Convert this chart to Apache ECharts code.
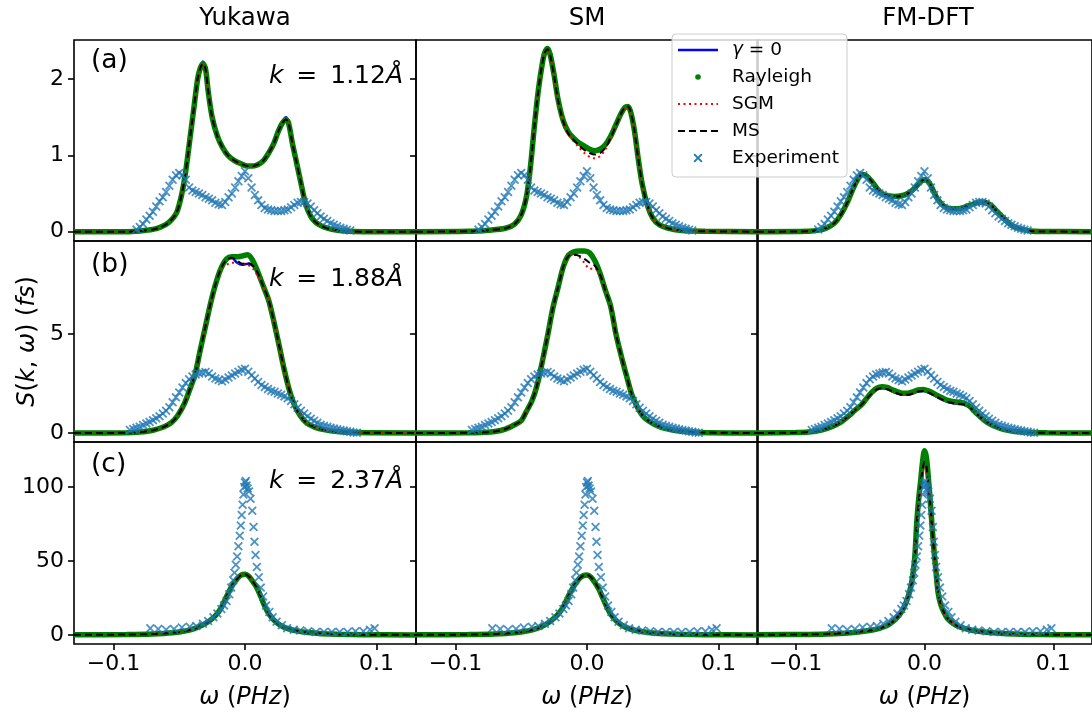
<!DOCTYPE html>
<html>
<head>
<meta charset="utf-8">
<title>S(k, ω) Yukawa / SM / FM-DFT</title>
<script src="https://cdn.jsdelivr.net/npm/echarts@6.0.0/dist/echarts.min.js"></script>
<style>
  html, body { margin: 0; padding: 0; background: #fff; }
  #main { width: 1092px; height: 713px; }
</style>
</head>
<body>
<div id="main"></div>
<script>
// ---- 数据 ----
const COLUMN_TITLES = ['Yukawa', 'SM', 'FM-DFT'];
const ROW_TAGS = ['(a)', '(b)', '(c)'];
const K_VALUES = ['1.12', '1.88', '2.37'];
const X_TICKS = [-0.1, 0, 0.1];
const Y_TICKS = [[0, 1, 2], [0, 5], [0, 50, 100]];
const Y_RANGES = [[-0.122, 2.51], [-0.455, 9.70], [-6.1, 130.4]];

// row (a), k = 1.12
const xYukA = [-0.13,-0.09,-0.08,-0.07,-0.064,-0.058,-0.052,-0.048,-0.045,-0.042,-0.039,-0.036,-0.034,-0.032,-0.030,-0.028,-0.025,-0.021,-0.017,-0.013,-0.008,-0.003,0.002,0.006,0.010,0.014,0.018,0.022,0.025,0.028,0.031,0.033,0.036,0.039,0.042,0.046,0.050,0.054,0.060,0.066,0.075,0.09,0.13];
const gYukA = [0,0,0.01,0.03,0.06,0.12,0.25,0.5,0.8,1.2,1.6,2.0,2.15,2.23,2.15,1.85,1.5,1.25,1.1,1.0,0.93,0.89,0.86,0.86,0.88,0.93,1.03,1.16,1.3,1.42,1.5,1.44,1.16,0.92,0.68,0.37,0.2,0.12,0.06,0.03,0.01,0,0];
const rYukA = [0,0,0.01,0.03,0.06,0.12,0.25,0.5,0.8,1.2,1.6,2.0,2.14,2.2,2.13,1.84,1.5,1.25,1.1,1.0,0.93,0.89,0.86,0.86,0.88,0.93,1.03,1.16,1.3,1.41,1.47,1.43,1.16,0.92,0.68,0.37,0.2,0.12,0.06,0.03,0.01,0,0];

const xSmA = [-0.13,-0.09,-0.075,-0.062,-0.055,-0.05,-0.046,-0.043,-0.040,-0.037,-0.034,-0.032,-0.030,-0.028,-0.025,-0.022,-0.018,-0.014,-0.010,-0.006,-0.002,0.002,0.006,0.010,0.014,0.018,0.022,0.026,0.029,0.031,0.033,0.036,0.039,0.042,0.046,0.050,0.055,0.062,0.072,0.09,0.13];
const rSmA = [0,0.005,0.02,0.045,0.1,0.22,0.46,0.85,1.38,1.85,2.2,2.35,2.40,2.32,2.05,1.73,1.45,1.3,1.22,1.16,1.12,1.08,1.06,1.08,1.14,1.25,1.4,1.55,1.63,1.64,1.58,1.33,0.95,0.62,0.34,0.18,0.09,0.045,0.015,0.005,0];
const sSmA = [0,0.005,0.02,0.045,0.1,0.22,0.46,0.85,1.38,1.85,2.2,2.35,2.38,2.3,2.03,1.72,1.43,1.27,1.18,1.1,1.03,0.98,0.96,0.99,1.08,1.22,1.38,1.54,1.62,1.63,1.57,1.32,0.95,0.62,0.34,0.18,0.09,0.045,0.015,0.005,0];
const mSmA = [0,0.005,0.02,0.045,0.1,0.22,0.46,0.85,1.38,1.85,2.2,2.35,2.39,2.31,2.04,1.72,1.44,1.28,1.2,1.13,1.07,1.03,1.01,1.03,1.1,1.23,1.39,1.55,1.63,1.64,1.58,1.33,0.95,0.62,0.34,0.18,0.09,0.045,0.015,0.005,0];

const xFmA = [-0.13,-0.09,-0.082,-0.076,-0.07,-0.065,-0.06,-0.055,-0.051,-0.048,-0.045,-0.041,-0.037,-0.033,-0.028,-0.023,-0.018,-0.013,-0.009,-0.005,-0.002,0.001,0.004,0.007,0.01,0.014,0.018,0.022,0.026,0.031,0.036,0.041,0.045,0.048,0.052,0.056,0.06,0.065,0.07,0.076,0.082,0.09,0.13];
const gFmA = [0,0.005,0.02,0.05,0.11,0.22,0.38,0.58,0.71,0.75,0.73,0.66,0.57,0.5,0.47,0.46,0.47,0.5,0.55,0.62,0.67,0.68,0.63,0.53,0.43,0.35,0.31,0.3,0.3,0.32,0.35,0.38,0.39,0.38,0.34,0.27,0.2,0.12,0.06,0.03,0.01,0.003,0];

const expXA = [-0.0825,-0.08,-0.0775,-0.075,-0.0725,-0.07,-0.0675,-0.065,-0.0625,-0.06,-0.0575,-0.055,-0.0525,-0.05,-0.0475,-0.045,-0.0425,-0.04,-0.0375,-0.035,-0.0325,-0.03,-0.0275,-0.025,-0.0225,-0.02,-0.0175,-0.015,-0.0125,-0.01,-0.0075,-0.005,-0.0025,0,0.0025,0.005,0.0075,0.01,0.0125,0.015,0.0175,0.02,0.0225,0.025,0.0275,0.03,0.0325,0.035,0.0375,0.04,0.0425,0.045,0.0475,0.05,0.0525,0.055,0.0575,0.06,0.0625,0.065,0.0675,0.07,0.0725,0.075,0.0775,0.08];
const expYA = [0.03,0.06,0.1,0.16,0.21,0.26,0.33,0.4,0.45,0.52,0.6,0.68,0.74,0.77,0.74,0.68,0.58,0.54,0.52,0.5,0.48,0.45,0.43,0.41,0.38,0.36,0.35,0.39,0.45,0.5,0.58,0.66,0.73,0.79,0.7,0.58,0.48,0.41,0.35,0.31,0.29,0.28,0.27,0.27,0.27,0.28,0.29,0.32,0.35,0.38,0.39,0.39,0.37,0.33,0.28,0.24,0.2,0.17,0.14,0.11,0.09,0.07,0.05,0.04,0.025,0.015];

// row (b), k = 1.88
const xYukB = [-0.13,-0.09,-0.08,-0.07,-0.062,-0.056,-0.051,-0.046,-0.042,-0.038,-0.034,-0.030,-0.026,-0.022,-0.018,-0.014,-0.010,-0.006,-0.002,0.002,0.006,0.010,0.014,0.018,0.022,0.026,0.030,0.034,0.038,0.042,0.047,0.053,0.06,0.07,0.085,0.13];
const gYukB = [0,0.01,0.05,0.14,0.3,0.52,0.9,1.5,2.2,2.95,4.2,5.4,6.6,7.6,8.35,8.75,8.85,8.6,8.5,8.55,8.45,8.05,7.4,6.7,5.62,4.4,3.15,2.1,1.35,0.88,0.5,0.3,0.17,0.07,0.02,0];
const rYukB = [0,0.01,0.05,0.14,0.3,0.52,0.9,1.5,2.2,2.95,4.2,5.4,6.6,7.6,8.35,8.8,8.9,8.9,8.95,9.0,8.7,8.1,7.4,6.7,5.62,4.4,3.15,2.1,1.35,0.88,0.5,0.3,0.17,0.07,0.02,0];
const sYukB = [0,0.01,0.05,0.14,0.3,0.52,0.9,1.5,2.2,2.95,4.2,5.4,6.6,7.6,8.3,8.5,8.6,8.6,8.55,8.5,8.3,7.9,7.35,6.7,5.62,4.4,3.15,2.1,1.35,0.88,0.5,0.3,0.17,0.07,0.02,0];
const mYukB = [0,0.01,0.05,0.14,0.3,0.52,0.9,1.5,2.2,2.95,4.2,5.4,6.6,7.6,8.35,8.75,8.85,8.7,8.55,8.6,8.45,8.05,7.4,6.7,5.62,4.4,3.15,2.1,1.35,0.88,0.5,0.3,0.17,0.07,0.02,0];

const xSmB = [-0.13,-0.09,-0.08,-0.07,-0.062,-0.055,-0.05,-0.046,-0.042,-0.038,-0.034,-0.030,-0.026,-0.022,-0.018,-0.014,-0.010,-0.006,-0.002,0.002,0.006,0.010,0.014,0.018,0.022,0.026,0.030,0.034,0.038,0.042,0.047,0.053,0.06,0.07,0.085,0.13];
const rSmB = [0,0.01,0.03,0.08,0.2,0.42,0.62,1.1,1.6,2.4,3.6,4.9,6.3,7.35,8.4,8.99,9.15,9.2,9.2,9.1,8.7,8.05,7.2,6.4,5.0,3.9,2.9,1.95,1.35,0.9,0.6,0.38,0.22,0.1,0.03,0];
const sSmB = [0,0.01,0.03,0.08,0.2,0.42,0.62,1.1,1.6,2.4,3.6,4.9,6.3,7.35,8.4,8.95,9.0,8.9,8.6,8.3,8.3,7.95,7.2,6.4,5.0,3.9,2.9,1.95,1.35,0.9,0.6,0.38,0.22,0.1,0.03,0];
const mSmB = [0,0.01,0.03,0.08,0.2,0.42,0.62,1.1,1.6,2.4,3.6,4.9,6.3,7.35,8.4,8.95,9.0,8.95,8.8,8.6,8.45,8.0,7.2,6.4,5.0,3.9,2.9,1.95,1.35,0.9,0.6,0.38,0.22,0.1,0.03,0];

const xFmB = [-0.13,-0.1,-0.09,-0.08,-0.072,-0.065,-0.059,-0.054,-0.049,-0.045,-0.041,-0.037,-0.033,-0.029,-0.025,-0.021,-0.017,-0.013,-0.009,-0.005,-0.001,0.003,0.007,0.011,0.015,0.019,0.023,0.027,0.031,0.035,0.039,0.043,0.047,0.051,0.056,0.062,0.07,0.08,0.095,0.13];
const gFmB = [0,0.02,0.05,0.15,0.32,0.55,0.85,1.15,1.42,1.72,2.0,2.2,2.26,2.22,2.1,2.0,1.93,1.93,2.0,2.1,2.12,2.05,1.92,1.78,1.65,1.55,1.5,1.47,1.43,1.3,1.05,0.82,0.6,0.45,0.3,0.17,0.08,0.03,0.01,0];
const rFmB = [0,0.02,0.05,0.15,0.32,0.55,0.85,1.15,1.42,1.74,2.05,2.27,2.34,2.3,2.18,2.08,2.01,2.01,2.08,2.18,2.2,2.13,2.0,1.86,1.73,1.63,1.58,1.55,1.5,1.36,1.08,0.84,0.61,0.45,0.3,0.17,0.08,0.03,0.01,0];

const expXB = [-0.0875,-0.085,-0.0825,-0.08,-0.0775,-0.075,-0.0725,-0.07,-0.0675,-0.065,-0.0625,-0.06,-0.0575,-0.055,-0.0525,-0.05,-0.0475,-0.045,-0.0425,-0.04,-0.0375,-0.035,-0.0325,-0.03,-0.0275,-0.025,-0.0225,-0.02,-0.0175,-0.015,-0.0125,-0.01,-0.0075,-0.005,-0.0025,0,0.0025,0.005,0.0075,0.01,0.0125,0.015,0.0175,0.02,0.0225,0.025,0.0275,0.03,0.0325,0.035,0.0375,0.04,0.0425,0.045,0.0475,0.05,0.0525,0.055,0.0575,0.06,0.0625,0.065,0.0675,0.07,0.0725,0.075,0.0775,0.08,0.0825,0.085];
const expYB = [0.15,0.2,0.26,0.32,0.4,0.48,0.56,0.65,0.74,0.85,0.98,1.12,1.3,1.55,1.8,2.05,2.3,2.52,2.72,2.85,2.95,3.0,3.05,3.08,3.0,2.85,2.75,2.68,2.62,2.7,2.8,2.9,3.0,3.1,3.2,3.25,3.1,2.92,2.75,2.58,2.42,2.32,2.22,2.14,2.08,2.0,1.93,1.85,1.75,1.62,1.45,1.28,1.12,0.98,0.85,0.72,0.62,0.52,0.42,0.36,0.31,0.27,0.23,0.19,0.15,0.12,0.09,0.06,0.03,0.01];

// row (c), k = 2.37
const xYukC = [-0.13,-0.09,-0.07,-0.055,-0.045,-0.038,-0.032,-0.027,-0.022,-0.018,-0.014,-0.010,-0.006,-0.003,0,0.003,0.006,0.009,0.012,0.015,0.018,0.022,0.027,0.033,0.04,0.048,0.058,0.07,0.09,0.13];
const gYukC = [0.1,0.3,0.7,1.5,2.8,4.5,6.8,9.5,13.5,18.5,26,33,38,40.5,41,39.5,36,32,26,19.5,14.5,10,6.5,4.1,2.6,1.6,0.9,0.5,0.2,0.05];
const gSmC = [0.1,0.3,0.7,1.5,2.8,4.5,6.8,9.8,14,19,26.5,33,38,40,40.5,39,35.5,31,25,19,14,9.8,6.3,4,2.5,1.5,0.9,0.5,0.2,0.05];

const xFmC = [-0.13,-0.09,-0.07,-0.055,-0.045,-0.038,-0.032,-0.027,-0.022,-0.018,-0.015,-0.0125,-0.0105,-0.009,-0.0075,-0.006,-0.0045,-0.003,-0.0015,0,0.0015,0.003,0.0045,0.006,0.0075,0.009,0.0105,0.0125,0.015,0.018,0.022,0.027,0.033,0.04,0.048,0.058,0.07,0.09,0.13];
const rFmC = [0.1,0.4,0.9,1.7,2.8,3.8,5.4,7.5,11,15.5,20.5,26.5,33,41,53,76,92,104,117,124.5,120,106,90,72,56,42,29,21,15.5,11,8,5.6,4,2.7,1.9,1.2,0.7,0.3,0.1];
const gFmC = [0.1,0.4,0.9,1.7,2.8,3.8,5.4,7.5,11,15.5,20.5,26.5,33,41,53,75,90,101,112,118,114,102,88,71,55,41,29,21,15.5,11,8,5.6,4,2.7,1.9,1.2,0.7,0.3,0.1];
const mFmC = [0.1,0.4,0.9,1.7,2.8,3.8,5.4,7.5,11,15.5,20.5,26.5,33,41,53,75,90,101,112,117,114,102,88,71,55,41,29,21,15.5,11,8,5.6,4,2.7,1.9,1.2,0.7,0.3,0.1];
const sFmC = [0.1,0.4,0.9,1.7,2.8,3.8,5.4,7.5,11,15.5,20.5,26.5,33,41,53,74,89,100,109,113,110,100,87,70,55,41,29,21,15.5,11,8,5.6,4,2.7,1.9,1.2,0.7,0.3,0.1];

const expXC = [-0.072,-0.066,-0.06,-0.054,-0.048,-0.042,-0.037,-0.032,-0.028,-0.024,-0.021,-0.018,-0.016,-0.014,-0.012,-0.0105,-0.009,-0.008,-0.007,-0.006,-0.005,-0.004,-0.0032,-0.0025,-0.0018,-0.0012,-0.0006,0,0.0006,0.0012,0.002,0.003,0.0042,0.0055,0.0065,0.0072,0.008,0.009,0.0105,0.012,0.0138,0.016,0.0185,0.021,0.024,0.028,0.032,0.037,0.042,0.048,0.054,0.06,0.066,0.072,0.078,0.084,0.09,0.095,0.0985];
const expYC = [4.5,4,3.5,4,5,5.5,6,7.5,9.5,12,14.5,17.5,20,23,27.5,32,37,42,47.5,53,60,67,74,81,88,95,100,103,104,101,99,97,92,84,73,63,54,46,39,32,26,20,15.5,12,9,6.5,4.5,3.5,3,2.5,2,2,2,2,2,2.5,2.5,3.5,4.5];

// 每个子图: [row][col]
const PANELS = [
  [
    { x: xYukA, gamma: gYukA, rayleigh: rYukA, sgm: rYukA, ms: rYukA },
    { x: xSmA, gamma: rSmA, rayleigh: rSmA, sgm: sSmA, ms: mSmA },
    { x: xFmA, gamma: gFmA, rayleigh: gFmA, sgm: gFmA, ms: gFmA }
  ],
  [
    { x: xYukB, gamma: gYukB, rayleigh: rYukB, sgm: sYukB, ms: mYukB },
    { x: xSmB, gamma: rSmB, rayleigh: rSmB, sgm: sSmB, ms: mSmB },
    { x: xFmB, gamma: gFmB, rayleigh: rFmB, sgm: gFmB, ms: gFmB }
  ],
  [
    { x: xYukC, gamma: gYukC, rayleigh: gYukC, sgm: gYukC, ms: gYukC },
    { x: xYukC, gamma: gSmC, rayleigh: gSmC, sgm: gSmC, ms: gSmC },
    { x: xFmC, gamma: gFmC, rayleigh: rFmC, sgm: sFmC, ms: mFmC }
  ]
];
const EXPERIMENT = [
  { x: expXA, y: expYA },
  { x: expXB, y: expYB },
  { x: expXC, y: expYC }
];

// ---- 版式 ----
const FONT = 'DejaVu Sans';
const COL_LEFT = [74, 416, 757];
const ROW_TOP = [40, 241, 442];
const PANEL_W = 342;
const PANEL_H = [201, 201, 202];
const X_MARK = 'path://M0,1.4L1.4,0L5,3.6L8.6,0L10,1.4L6.4,5L10,8.6L8.6,10L5,6.4L1.4,10L0,8.6L3.6,5Z';
const X_POLY = [[0,1.4],[1.4,0],[5,3.6],[8.6,0],[10,1.4],[6.4,5],[10,8.6],[8.6,10],[5,6.4],[1.4,10],[0,8.6],[3.6,5]];
const LABEL_RICH = { i: { fontStyle: 'italic', fontFamily: FONT, fontSize: 24, color: '#000' } };

function pairs(xs, ys) {
  return xs.map((x, i) => [x, ys[i]]);
}

function fmtX(v) {
  return (v < 0 ? '\u2212' : '') + Math.abs(v).toFixed(1);
}

const chart = echarts.init(document.getElementById('main'), null, { renderer: 'canvas' });

const grids = [], xAxes = [], yAxes = [], series = [], graphics = [];

for (let r = 0; r < 3; r++) {
  for (let c = 0; c < 3; c++) {
    const idx = r * 3 + c;
    const p = PANELS[r][c];
    const exp = EXPERIMENT[r];
    const bottom = r === 2;

    grids.push({
      left: COL_LEFT[c], top: ROW_TOP[r], width: PANEL_W, height: PANEL_H[r],
      show: true, borderColor: '#000', borderWidth: 1.6, backgroundColor: 'transparent'
    });

    xAxes.push({
      gridIndex: idx, type: 'value', min: -0.13, max: 0.13,
      axisLine: { show: false, onZero: false },
      splitLine: { show: false },
      axisTick: { show: bottom, customValues: X_TICKS, length: 6, lineStyle: { color: '#000', width: 1.6 } },
      axisLabel: { show: bottom, customValues: X_TICKS, formatter: fmtX, margin: 9,
        fontFamily: FONT, fontSize: 22, color: '#000' },
      name: bottom ? '{i|ω} ({i|PHz})' : '',
      nameLocation: 'middle', nameGap: 42,
      nameTextStyle: { fontFamily: FONT, fontSize: 24, color: '#000', rich: LABEL_RICH }
    });

    const isLabelAxis = r === 1 && c === 0;
    yAxes.push({
      gridIndex: idx, type: 'value', min: Y_RANGES[r][0], max: Y_RANGES[r][1],
      axisLine: { show: false, onZero: false },
      splitLine: { show: false },
      axisTick: { show: true, customValues: Y_TICKS[r], length: 6, lineStyle: { color: '#000', width: 1.6 } },
      axisLabel: { show: c === 0, customValues: Y_TICKS[r], margin: 10,
        fontFamily: FONT, fontSize: 22, color: '#000' },
      name: isLabelAxis ? '{i|S}({i|k}, {i|ω}) ({i|fs})' : '',
      nameLocation: 'middle', nameGap: 34, nameRotate: 90,
      nameTextStyle: { fontFamily: FONT, fontSize: 24, color: '#000', rich: LABEL_RICH }
    });

    const common = { xAxisIndex: idx, yAxisIndex: idx, silent: true, animation: false };
    series.push(Object.assign({
      name: 'γ = 0', type: 'line', data: pairs(p.x, p.gamma), symbol: 'none', smooth: 0.3,
      lineStyle: { color: '#0000ff', width: 2.5 }, z: 2
    }, common));
    series.push(Object.assign({
      name: 'Rayleigh', type: 'line', data: pairs(p.x, p.rayleigh), symbol: 'none', smooth: 0.3,
      lineStyle: { color: '#008000', width: 5.5 }, z: 3
    }, common));
    series.push(Object.assign({
      name: 'SGM', type: 'line', data: pairs(p.x, p.sgm), symbol: 'none', smooth: 0.3,
      lineStyle: { color: '#ff0000', width: 2, type: [2, 3.5] }, z: 4
    }, common));
    series.push(Object.assign({
      name: 'MS', type: 'line', data: pairs(p.x, p.ms), symbol: 'none', smooth: 0.3,
      lineStyle: { color: '#000000', width: 2, type: [7, 4] }, z: 5
    }, common));
    series.push(Object.assign({
      name: 'Experiment', type: 'scatter', data: pairs(exp.x, exp.y),
      symbol: X_MARK, symbolSize: 9, itemStyle: { color: '#1f77b4' }, z: 6
    }, common));
  }
}

// 列标题
COLUMN_TITLES.forEach((t, c) => {
  graphics.push({
    type: 'text', z: 50,
    style: { text: t, x: COL_LEFT[c] + PANEL_W / 2, y: 19, align: 'center', verticalAlign: 'middle',
      font: '24.5px "DejaVu Sans"', fill: '#000' }
  });
});

// 子图标注 (a)(b)(c) 和 k 值
const TAG_Y = [61, 265, 465];
const K_Y = [76, 279, 481];
for (let r = 0; r < 3; r++) {
  graphics.push({
    type: 'text', z: 50,
    style: { text: ROW_TAGS[r], x: 91, y: TAG_Y[r], align: 'left', verticalAlign: 'middle',
      font: '26.5px "DejaVu Sans"', fill: '#000' }
  });
  graphics.push({
    type: 'text', z: 50,
    style: {
      text: '{i|k} \u2009=\u2009 ' + K_VALUES[r] + '{i|Å}', x: 403, y: K_Y[r], align: 'right', verticalAlign: 'middle',
      font: '25px "DejaVu Sans"', fill: '#000',
      rich: { i: { font: 'italic 25px "DejaVu Sans"', fill: '#000' } }
    }
  });
}

// 图例 (画在中间和右侧子图之间)
const LEG_Y = [50, 77, 104, 131, 158];
graphics.push({
  type: 'rect', z: 60,
  shape: { x: 672, y: 34, width: 175, height: 143, r: 4 },
  style: { fill: 'rgba(255,255,255,0.8)', stroke: '#cccccc', lineWidth: 1 }
});
graphics.push({ type: 'line', z: 61, shape: { x1: 678, y1: LEG_Y[0], x2: 718, y2: LEG_Y[0] },
  style: { stroke: '#0000ff', lineWidth: 2.5 } });
graphics.push({ type: 'circle', z: 61, shape: { cx: 698, cy: LEG_Y[1], r: 2.8 },
  style: { fill: '#008000' } });
graphics.push({ type: 'line', z: 61, shape: { x1: 678, y1: LEG_Y[2], x2: 718, y2: LEG_Y[2] },
  style: { stroke: '#ff0000', lineWidth: 2, lineDash: [2, 3.5] } });
graphics.push({ type: 'line', z: 61, shape: { x1: 678, y1: LEG_Y[3], x2: 718, y2: LEG_Y[3] },
  style: { stroke: '#000000', lineWidth: 2, lineDash: [7, 4] } });
graphics.push({ type: 'polygon', z: 61,
  shape: { points: X_POLY.map(pt => [693.5 + pt[0] * 0.9, LEG_Y[4] - 4.5 + pt[1] * 0.9]) },
  style: { fill: '#1f77b4' } });
['{i|γ} = 0', 'Rayleigh', 'SGM', 'MS', 'Experiment'].forEach((t, i) => {
  graphics.push({
    type: 'text', z: 61,
    style: { text: t, x: 732, y: LEG_Y[i], align: 'left', verticalAlign: 'middle',
      font: '18.5px "DejaVu Sans"', fill: '#000',
      rich: { i: { font: 'italic 18.5px "DejaVu Sans"', fill: '#000' } } }
  });
});

chart.setOption({
  animation: false,
  backgroundColor: '#fff',
  grid: grids,
  xAxis: xAxes,
  yAxis: yAxes,
  series: series,
  graphic: graphics
});

window.addEventListener('resize', function() {
  chart.resize();
});
</script>
</body>
</html>
